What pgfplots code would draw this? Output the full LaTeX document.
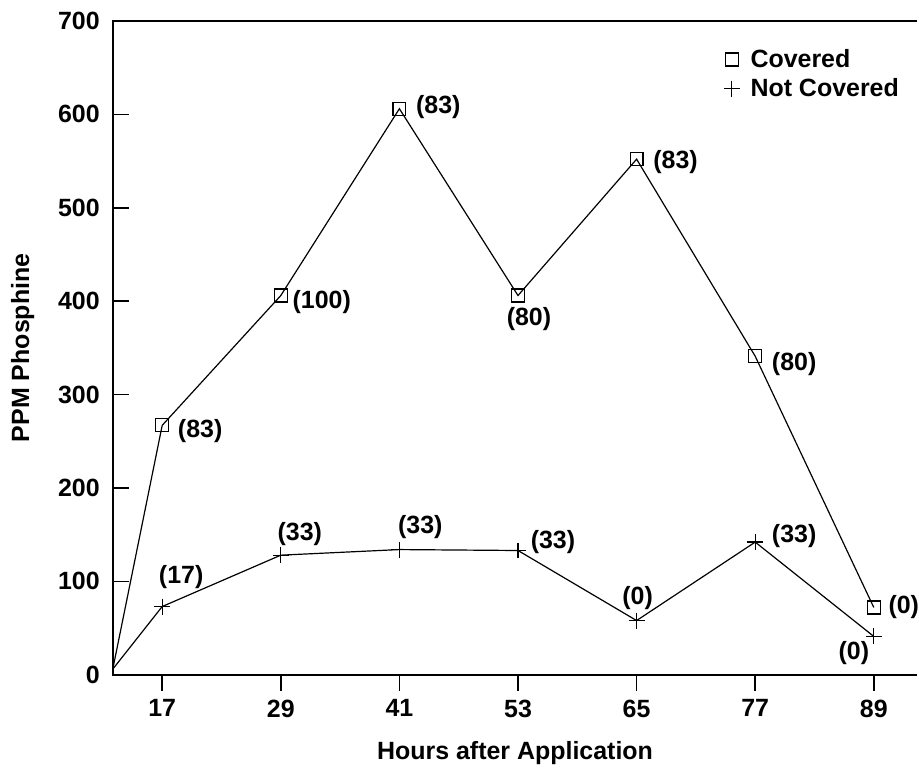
\documentclass[border=0pt]{standalone}
\usepackage{fontspec}
\setmainfont{Liberation Sans}
\usepackage{pgfplots}
\pgfplotsset{compat=1.18}
\begin{document}
\begin{tikzpicture}
\begin{axis}[
  scale only axis,
  width=403pt, height=327.5pt,
  xmin=12, xmax=93.4, ymin=0, ymax=700,
  axis line style={draw=none},
  xtick={17,29,41,53,65,77,89},
  ytick={0,100,200,300,400,500,600,700},
  x tick style={black, line width=0.8pt},
  y tick style={black, line width=0.8pt},
  xtick pos=bottom, ytick pos=left,
  xtick align=outside, ytick align=inside,
  major tick length=8pt,
  tick label style={font=\fontsize{12.5}{15}\selectfont\bfseries},
  /pgf/number format/assume math mode=true,
  xticklabel style={yshift=-1pt},
  yticklabel style={xshift=-3pt},
  xlabel={Hours after Application},
  ylabel={PPM Phosphine},
  label style={font=\fontsize{12.5}{15}\selectfont\bfseries},
  xlabel style={yshift=-5pt},
  ylabel style={yshift=5pt},
  legend style={draw=none, fill=none, at={(rel axis cs:0.99,0.97)}, anchor=north east,
    font=\fontsize{12.5}{15}\selectfont\bfseries, row sep=0pt,
    legend cell align=left},
  legend image code/.code={\draw[#1] plot[only marks] coordinates {(0.3cm,0cm)};
    \path[draw=none] (0cm,0cm) -- (0.56cm,0cm);},
  clip=false,
]
\addplot[black, line width=0.6pt, mark=square, mark size=3.25pt, mark options={solid, line width=0.6pt}]
  coordinates {(17,267) (29,406) (41,606) (53,406) (65,552) (77,341) (89,72)};
\addlegendentry{Covered}
\addplot[black, line width=0.6pt, mark=+, mark size=4pt, mark options={solid, line width=0.6pt}]
  coordinates {(17,73) (29,128) (41,134) (53,133) (65,58) (77,142) (89,41)};
\addlegendentry{Not Covered}
\addplot[black, line width=0.6pt, no marks, forget plot] coordinates {(12,6) (17,267)};
\addplot[black, line width=0.6pt, no marks, forget plot] coordinates {(12,6) (17,73)};
\draw[line width=0.8pt] (rel axis cs:1,0) -- (rel axis cs:0,0) -- (rel axis cs:0,1) -- (rel axis cs:1,1);
\coordinate (ll) at (rel axis cs:0,0);
\coordinate (ur) at (rel axis cs:1,1);
\tikzset{lab/.style={font=\fontsize{12.5}{15}\selectfont\bfseries, inner sep=0pt, anchor=center}}
% Covered labels
\node[lab, xshift=19pt, yshift=-3pt] at (axis cs:17,267) {(83)};
\node[lab, xshift=20.5pt, yshift=-3.5pt] at (axis cs:29,406) {(100)};
\node[lab, xshift=19.5pt, yshift=1pt] at (axis cs:41,606) {(83)};
\node[lab, xshift=5.5pt, yshift=-12pt] at (axis cs:53,406) {(80)};
\node[lab, xshift=19.5pt, yshift=-1.5pt] at (axis cs:65,552) {(83)};
\node[lab, xshift=19.5pt, yshift=-4pt] at (axis cs:77,341) {(80)};
\node[lab, xshift=15pt, yshift=0pt] at (axis cs:89,72) {(0)};
% Not covered labels
\node[lab, xshift=9.5pt, yshift=15pt] at (axis cs:17,73) {(17)};
\node[lab, xshift=9.5pt, yshift=10.5pt] at (axis cs:29,128) {(33)};
\node[lab, xshift=10.5pt, yshift=11.5pt] at (axis cs:41,134) {(33)};
\node[lab, xshift=17.5pt, yshift=4pt] at (axis cs:53,133) {(33)};
\node[lab, xshift=0.5pt, yshift=11.5pt] at (axis cs:65,58) {(0)};
\node[lab, xshift=19.5pt, yshift=3pt] at (axis cs:77,142) {(33)};
\node[lab, xshift=-10pt, yshift=-8.5pt] at (axis cs:89,41) {(0)};
\end{axis}
\path ([xshift=-56.5pt,yshift=-47.5pt]ll) rectangle ([yshift=10.5pt]ur);
\end{tikzpicture}
\end{document}
